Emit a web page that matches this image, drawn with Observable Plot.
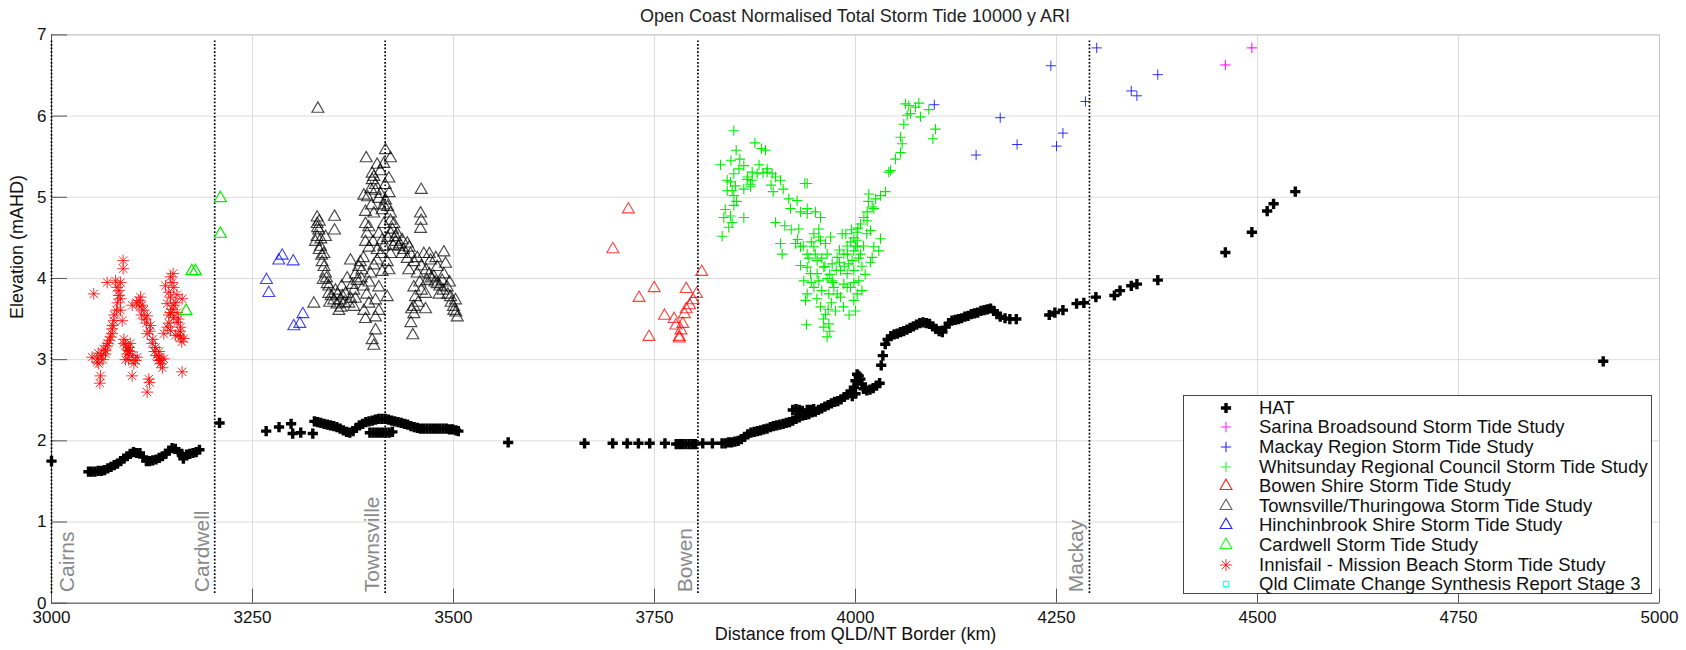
<!DOCTYPE html>
<html><head><meta charset="utf-8">
<script src="https://cdn.jsdelivr.net/npm/d3@7"></script>
<script src="https://cdn.jsdelivr.net/npm/@observablehq/plot@0.6"></script>
<style>
body{margin:0;background:#fff;font-family:"Liberation Sans",Arial,sans-serif;}
#wrap{position:relative;width:1686px;height:650px;overflow:hidden;background:#fff;}
#title{position:absolute;left:51px;width:1608px;top:5px;text-align:center;font-size:18px;color:#222;line-height:22px;z-index:2;}
#chart{position:absolute;left:0;top:0;z-index:1;}
#legend{position:absolute;left:1183px;top:395px;width:467px;height:197px;border:1px solid #444;background:#fff;z-index:3;}
.row{position:absolute;left:0;height:20px;width:460px;}
.row svg{position:absolute;left:32px;top:0;}
.row span{position:absolute;left:75px;top:0;line-height:20px;font-size:18.5px;color:#111;white-space:nowrap;}
</style></head>
<body>
<div id="wrap">
  <div id="title"></div>
  <div id="chart"></div>
  <div id="legend"></div>
</div>
<script>
const titleText = "Open Coast Normalised Total Storm Tide 10000 y ARI";
const xLabel = "Distance from QLD/NT Border (km)";
const yLabel = "Elevation (mAHD)";
const xTicks = [3000,3250,3500,3750,4000,4250,4500,4750,5000];
const yTicks = [0,1,2,3,4,5,6,7];
const cityNames = ["Cairns","Cardwell","Townsville","Bowen","Mackay"];
const cityKm = [3000,3203,3415,3804,4291];

const legendNames = ["HAT","Sarina Broadsound Storm Tide Study","Mackay Region Storm Tide Study","Whitsunday Regional Council Storm Tide Study","Bowen Shire Storm Tide Study","Townsville/Thuringowa Storm Tide Study","Hinchinbrook Shire Storm Tide Study","Cardwell Storm Tide Study","Innisfail - Mission Beach Storm Tide Study","Qld Climate Change Synthesis Report Stage 3"];
const legendColors = ["#000000","#ff00ff","#0000ff","#00ff00","#ff0000","#000000","#0000ff","#00ff00","#ff0000","#00ffff"];
const legendSymbols = ["cross","plus","plus","plus","triangle","triangle","triangle","triangle","asterisk","square"];

// [km, elevation]
const hat = [[3000,1.75],
[3046,1.62],[3050,1.62],[3054,1.62],[3058,1.63],[3062,1.63],[3066,1.64],[3070,1.66],[3074,1.68],[3078,1.70],[3082,1.72],[3086,1.75],[3090,1.78],[3094,1.81],[3098,1.84],[3102,1.86],[3106,1.85],[3110,1.85],[3114,1.80],[3118,1.75],[3122,1.75],[3126,1.76],[3130,1.77],[3134,1.79],[3138,1.81],[3142,1.84],[3146,1.88],[3150,1.91],[3154,1.90],[3158,1.86],[3162,1.84],[3164,1.78],[3168,1.83],[3172,1.84],[3176,1.85],[3180,1.86],[3184,1.89],
[3209,2.22],
[3267,2.12],[3283,2.17],[3298,2.21],[3300,2.09],[3310,2.10],[3325,2.09],
[3327,2.24],[3331,2.23],[3335,2.22],[3339,2.21],[3343,2.20],[3347,2.19],[3351,2.18],[3355,2.17],[3359,2.15],[3363,2.13],[3367,2.11],[3371,2.10],[3375,2.12],[3379,2.16],[3383,2.19],[3387,2.21],[3391,2.23],[3395,2.24],[3399,2.25],[3403,2.26],[3407,2.27],[3411,2.27],[3415,2.27],[3419,2.26],[3423,2.25],[3427,2.24],[3431,2.23],[3435,2.22],[3439,2.21],[3443,2.20],[3447,2.18],[3451,2.17],[3455,2.16],[3459,2.15],[3463,2.15],[3467,2.15],[3471,2.15],[3475,2.15],[3479,2.15],[3483,2.15],[3487,2.15],[3491,2.15],[3495,2.14],[3499,2.14],[3503,2.13],[3506,2.12],
[3396,2.10],[3400,2.10],[3404,2.10],[3408,2.10],[3412,2.10],[3416,2.10],[3420,2.10],[3424,2.11],
[3568,1.98],
[3663,1.97],[3698,1.97],[3716,1.97],[3730,1.97],[3744,1.97],[3763,1.97],[3777,1.96],[3781,1.96],[3785,1.96],[3789,1.96],[3793,1.96],[3797,1.96],[3801,1.96],[3810,1.97],[3822,1.97],[3834,1.97],
[3838,1.97],[3842,1.98],[3846,1.98],[3850,1.99],[3854,2.00],[3858,2.02],[3862,2.05],[3866,2.08],[3870,2.10],[3874,2.11],[3878,2.12],[3882,2.13],[3886,2.14],[3890,2.15],[3894,2.17],[3898,2.18],[3902,2.19],[3906,2.20],[3910,2.21],[3914,2.22],[3918,2.23],[3922,2.25],[3926,2.27],[3930,2.29],[3934,2.31],[3938,2.32],[3942,2.33],[3946,2.35],[3950,2.36],[3954,2.38],[3958,2.40],[3962,2.42],[3966,2.44],[3970,2.46],[3974,2.48],[3978,2.49],[3982,2.51],[3986,2.54],[3990,2.57],[3994,2.61],[3998,2.66],[4000,2.74],[4002,2.82],[4004,2.80],[4006,2.76],[4008,2.70],[4010,2.64],[4014,2.62],[4018,2.63],[4022,2.65],[4026,2.68],[4030,2.71],[4032,2.93],[4034,3.05],[4037,3.19],[4040,3.25],[4044,3.29],[4048,3.31],[4052,3.32],[4056,3.34],[4060,3.35],[4064,3.37],[4068,3.39],[4072,3.41],[4076,3.43],[4080,3.45],[4084,3.46],[4088,3.45],[4092,3.44],[4096,3.41],[4100,3.38],[4104,3.35],[4108,3.34],[4112,3.40],[4116,3.45],[4120,3.48],[4124,3.49],[4128,3.50],[4132,3.51],[4136,3.53],[4140,3.54],[4144,3.56],[4148,3.57],[4152,3.58],[4156,3.60],[4160,3.61],[4164,3.62],[4168,3.63],[4172,3.60],[4176,3.56],[4180,3.53],[4186,3.51],[4192,3.50],[4200,3.50],
[3922,2.38],[3926,2.39],[3930,2.38],[3934,2.37],[3940,2.38],[3944,2.38],[3948,2.39],[3996,2.55],[4000,2.58],
[4241,3.55],[4248,3.58],[4258,3.61],[4275,3.69],[4284,3.70],[4299,3.77],[4322,3.79],[4329,3.85],[4343,3.91],[4350,3.93],[4376,3.98],[4460,4.32],[4493,4.57],[4512,4.83],[4520,4.92],[4547,5.07],[4930,2.98]];

const sarina = [[4460,6.63],[4493,6.84]];

const mackay = [[4098,6.14],[4150,5.52],[4180,5.98],[4201,5.65],[4243,6.62],[4250,5.63],[4258,5.79],[4286,6.18],[4300,6.84],[4343,6.31],[4350,6.25],[4376,6.51]];

const whitsunday = [[3848.7,5.82],[3832.1,5.40],[3851.6,5.58],[3856.1,5.47],[3861.1,5.39],[3874.8,5.67],[3883.1,5.60],[3888.0,5.58],[3840.4,5.21],[3848.7,5.29],[3844.5,5.19],[3850.7,5.14],[3840.4,5.08],[3846.6,5.08],[3848.7,5.02],[3861.1,5.10],[3869.4,5.13],[3871.5,5.21],[3871.5,5.31],[3877.7,5.29],[3890.1,5.35],[3896.3,5.29],[3906.7,5.21],[3897.6,5.07],[3848.7,4.90],[3836.2,4.75],[3844.5,4.77],[3846.6,4.69],[3842.4,4.63],[3834.1,4.52],[3861.1,4.75],[3865.2,5.22],[3869.4,5.16],[3890.1,5.31],[3900.5,5.25],
[3937.0,5.17],[3939.9,5.17],[3917.1,4.98],[3927.4,4.96],[3919.1,4.86],[3931.6,4.82],[3939.9,4.80],[3939.9,4.86],[3950.2,4.82],[3956.5,4.75],[3900.5,4.69],[3929.5,4.61],[3954.4,4.61],[3948.2,4.55],[3954.4,4.51],[3906.7,4.43],[3908.8,4.30],[3925.4,4.43],[3931.6,4.39],[3939.9,4.30],[3948.2,4.39],[3956.5,4.47],[3962.7,4.43],[3968.9,4.51],[3964.7,4.30],[3952.3,4.22],[3939.9,4.14],[3931.6,4.16],[3944.0,4.06],[3935.7,3.97],[3939.9,3.81],[3937.8,3.73],[3954.4,3.97],[3960.6,4.14],[3971.0,4.18],[3977.2,4.26],[3981.3,4.10],[3989.6,4.06],[3985.5,3.93],[3993.8,3.89],[4002.1,3.81],[3997.9,3.73],[3981.3,3.77],[3973.0,3.89],[3964.7,4.00],[3956.5,3.65],[3962.7,3.56],[3966.8,3.44],[3960.6,3.40],[3964.7,3.28],[3939.0,3.43],[4000.0,3.60],[4004.1,3.97],[3991.7,4.18],[3983.4,4.55],[3989.6,4.40],[4002.1,4.47],[3997.9,4.34],[4006.2,4.30],[4002.1,4.57],[4006.2,4.67],[4010.4,4.75],[4014.5,4.71],[4018.6,4.59],[4031.1,4.49],[4022.8,4.39],[4020.7,4.26],[4018.6,4.20],[4029.0,4.34],
[3985.5,4.30],[3995.8,4.22],[4002.1,4.39],[3971.0,3.97],[3977.2,3.81],[3966.8,3.81],[3952.3,4.06],[3948.2,3.89],[3989.6,3.89],[3997.9,4.10],
[3945,4.45],[3950,4.30],[3958,4.25],[3962,4.15],[3968,4.05],[3972,3.95],[3976,4.10],[3980,4.20],[3986,4.15],[3990,4.30],[3994,4.45],[3998,4.50],[4000,4.40],[4004,4.25],[4008,4.15],[4012,4.05],[4010,4.40],[4014,4.55],[4003,4.62],[3995,4.60],[3958,3.85],[3952,3.75],[3945,3.95],[3942,4.25],[3935,4.40],[3928,4.48],[3920,4.60],[3912,4.65],[3970,3.70],[3975,3.60],[3968,3.35],[3985,3.65],[3992,3.55],[3998,3.95],[4008,3.85],[3960,3.50],[3966,3.62],[3980,4.35],[3988,4.55],[4016,4.95],[4025,4.98],[3855,5.35],[3845,5.45],[3838,4.85],[3852,4.95],[3866,5.25],[3880,5.40],[3885,5.30],[3910,5.10],[3895,5.15],
[4016.6,5.04],[4031.1,5.02],[4037.3,5.07],[4020.7,4.88],[4022.8,4.86],[4014.5,4.82],[4043.5,5.33],[4041.4,5.31],[4049.7,5.47],[4056.0,5.55],[4058.0,5.66],[4056.0,5.74],[4060.1,5.90],[4064.3,6.01],[4068.4,6.03],[4062.2,6.15],[4078.8,6.16],[4080.8,5.99],[4074.6,6.11],[4091.2,6.08],[4099.5,5.84],[4096.2,5.72],[4066.3,6.13]];

const bowen = [[3717.5,4.85],[3698.2,4.36],[3808.7,4.08],[3749.6,3.88],[3730.8,3.76],[3789.4,3.87],[3802.3,3.81],[3798.0,3.73],[3793.7,3.67],[3789.4,3.62],[3787.3,3.56],[3762.4,3.54],[3774.4,3.50],[3785.2,3.44],[3776.6,3.42],[3783.0,3.36],[3780.9,3.28],[3743.2,3.28],[3780.9,3.26]];

const townsville = [[3331.3,6.09],[3391.4,5.48],[3415.4,5.58],[3421.6,5.48],[3398.8,5.29],[3400.9,5.25],[3419.6,5.23],[3403.0,5.08],[3388.5,5.02],[3409.2,5.04],[3415.4,4.96],[3390.5,4.82],[3400.9,4.80],[3411.3,4.84],[3421.6,4.80],[3421.6,4.71],[3390.5,4.67],[3394.7,4.63],[3392.6,4.55],[3390.5,4.45],[3407.1,4.55],[3411.3,4.47],[3413.3,4.39],[3425.8,4.67],[3429.9,4.55],[3436.1,4.47],[3442.4,4.43],[3432.0,4.39],[3421.6,4.30],[3417.5,4.20],[3405.0,4.22],[3400.9,4.16],[3396.8,4.06],[3411.3,4.08],[3419.6,4.10],[3407.1,3.89],[3417.5,3.77],[3403.0,3.73],[3394.7,3.69],[3388.5,3.60],[3390.5,3.50],[3407.1,3.60],[3403.0,3.52],[3403.0,3.36],[3398.8,3.24],[3400.9,3.17],
[3330.4,4.75],[3330.4,4.67],[3332.5,4.59],[3330.4,4.51],[3328.3,4.45],[3334.6,4.39],[3338.7,4.30],[3336.6,4.20],[3340.8,4.06],[3342.9,3.93],[3344.9,3.81],[3351.2,3.73],[3357.4,3.60],[3353.2,3.85],[3359.4,3.73],[3365.7,3.81],[3369.8,3.69],[3367.7,4.00],[3376.0,3.85],[3380.2,3.97],[3382.2,4.14],[3371.9,4.22],[3326.3,3.69],[3352.0,4.76],[3352.0,4.59],
[3459.8,5.09],[3459.0,4.80],[3459.8,4.71],[3459.0,4.61],[3446.5,4.30],[3450.7,4.20],[3444.4,4.10],[3454.8,4.06],[3463.1,4.30],[3471.4,4.22],[3479.7,4.14],[3488.0,4.32],[3490.1,4.18],[3485.9,3.97],[3479.7,3.93],[3492.1,3.89],[3496.3,3.77],[3502.5,3.73],[3500.4,3.60],[3504.6,3.52],[3450.7,3.89],[3452.7,3.77],[3450.7,3.65],[3450.7,3.56],[3465.2,3.81],[3465.2,3.62],[3449.4,3.30],[3467.2,3.97],[3475.5,4.02],[3436.1,4.30],[3442.4,4.24],[3427.9,4.51],[3340.8,4.51],
[3413.3,5.41],[3398.8,5.21],[3413.3,4.67],[3386.0,4.10],[3378.0,3.75],[3362.0,3.78],[3425.0,4.40],[3470.0,4.05],[3482.0,3.80],
[3405,5.40],[3409,5.32],[3403,5.15],[3397,5.10],[3407,4.98],[3413,4.90],[3418,4.88],[3424,4.60],[3428,4.45],[3433,4.42],[3438,4.35],[3445,4.38],[3410,4.30],[3405,4.35],[3400,4.45],[3395,4.38],[3418,4.50],[3422,4.55],[3398,4.90],[3393,5.00],[3415,5.15],[3420,5.05],
[3333,4.70],[3331,4.62],[3335,4.48],[3333,4.35],[3336,4.28],[3339,4.14],[3342,4.00],[3338,3.98],[3345,3.90],[3348,3.78],[3346,3.70],
[3355,3.68],[3360,3.64],[3364,3.70],[3372,3.75],[3376,3.65],[3374,3.92],[3378,4.05],[3385,4.00],[3388,3.90],[3392,3.80],[3395,3.95],[3384,4.20],[3388,4.25],[3361,3.90],[3356,3.80],
[3455,4.25],[3460,4.15],[3466,4.10],[3472,4.00],[3477,3.95],[3483,3.90],[3487,3.85],[3493,3.80],[3497,3.70],[3500,3.65],[3503,3.58],[3495,3.95],[3488,4.05],[3478,4.25],[3470,4.30],[3458,3.95],[3456,3.70],[3448,3.62],[3447,3.45],[3460,3.85]];

const hinchinbrook = [[3286.9,4.28],[3282.7,4.22],[3300.6,4.21],[3267.4,3.98],[3270.3,3.82],[3312.6,3.56],[3308.9,3.44],[3301.4,3.41]];

const cardwell = [[3210,4.99],[3210,4.55],[3174.6,4.09],[3179,4.09],[3167.4,3.60]];

const innisfail = [[3089.1,4.22],[3089.1,4.12],[3069.2,3.95],[3079.6,3.97],[3081.6,3.89],[3083.7,3.79],[3085.8,3.75],[3052.6,3.81],[3080.8,3.61],[3085.8,3.61],[3077.5,3.48],[3087.9,3.48],[3075.4,3.38],[3073.4,3.28],[3069.2,3.17],[3065.1,3.13],[3067.1,3.07],[3050.5,3.03],[3058.8,2.95],[3056.8,2.97],[3060.9,2.80],[3060.1,2.71],[3089.9,3.20],[3096.2,3.15],[3094.1,3.07],[3100.3,3.05],[3102.4,2.95],[3106.5,3.03],[3100.3,2.80],[3110.7,3.77],[3108.6,3.73],[3112.7,3.67],[3114.8,3.61],[3119.0,3.54],[3100.3,3.67],[3123.1,3.42],[3119.0,3.32],[3125.2,3.20],[3129.3,3.15],[3133.5,3.03],[3135.5,2.95],[3139.7,3.01],[3121.0,2.76],[3119.0,2.60],[3162.5,2.85],[3151.3,4.06],[3141.8,3.91],[3145.9,3.83],[3148.0,3.77],[3152.1,3.89],[3143.8,3.69],[3152.1,3.67],[3148.0,3.58],[3156.3,3.58],[3152.1,3.52],[3162.5,3.75],[3160.4,3.40],[3156.3,3.46],[3148.0,3.36],[3139.7,3.32],[3158.4,3.30],[3164.6,3.26],[3160.4,3.28],
[3096.2,3.11],[3104.5,2.99],[3067.1,3.11],[3056.8,3.01],[3075.4,3.32],[3133.5,2.99],
[3062,3.05],[3064,3.00],[3058,3.08],[3070,3.20],[3072,3.24],[3076,3.42],[3078,3.55],[3082,3.70],[3084,3.85],[3086,3.95],[3090,3.25],[3092,3.18],[3094,3.12],[3097,3.10],[3098,3.20],[3092,3.00],[3096,3.00],[3106,3.70],[3110,3.65],[3112,3.55],[3116,3.50],[3118,3.45],[3122,3.35],[3126,3.25],[3128,3.10],[3131,3.05],[3134,3.10],[3136,3.00],[3138,2.90],[3122,2.72],[3144,3.40],[3146,3.55],[3150,3.62],[3154,3.70],[3156,3.80],[3150,3.95],[3148,4.02],[3158,3.50],[3160,3.35],[3162,3.22],[3154,3.30],[3146,3.45]];

const synthesis = [];

// ---------- rendering ----------
document.getElementById("title").textContent = titleText;
const W = 1686, H = 650, mL = 51, mR = 27, mT = 34.4, mB = 47.3;
const frameW = W - mL - mR, frameH = H - mT - mB;
const cities = cityNames.map((n,i)=>({name:n, km:cityKm[i]}));
const P = s => s.map(([x,y])=>({x,y}));

const chart = Plot.plot({
  width: W, height: H, marginLeft: mL, marginRight: mR, marginTop: mT, marginBottom: mB,
  style: {fontFamily: "'Liberation Sans', Arial, sans-serif", fontSize: "17px", color: "#111", background: "transparent"},
  x: {domain: [3000,5000], ticks: xTicks, tickSize: 0, tickPadding: 8, tickFormat: d => String(d), label: null},
  y: {domain: [0,7], ticks: yTicks, tickSize: 0, tickPadding: 5, tickFormat: d => String(d), label: null},
  marks: [
    Plot.ruleX(xTicks, {stroke: "#dcdcdc", strokeWidth: 1}),
    Plot.ruleY(yTicks, {stroke: "#dcdcdc", strokeWidth: 1}),
    Plot.frame({stroke: "#c4c4c4"}),
    Plot.ruleX(xTicks, {stroke: "#555", insetTop: frameH - 14}),
    Plot.ruleY(yTicks, {stroke: "#555", insetRight: frameW - 16}),
    Plot.ruleX(xTicks.slice(0,1), {stroke: "#555"}),
    Plot.ruleY(yTicks.slice(0,1), {stroke: "#555"}),
    Plot.ruleX(cities, {x: "km", stroke: "#000", strokeWidth: 1.7, strokeDasharray: "1.7,1.9", insetTop: 6, insetBottom: 8}),
    Plot.text(cities.slice(0,1), {x: "km", text: "name", frameAnchor: "bottom", rotate: -90, textAnchor: "start", dx: 22, dy: -11, fill: "#8a8a8a", fontSize: 21}),
    Plot.text(cities.slice(1), {x: "km", text: "name", frameAnchor: "bottom", rotate: -90, textAnchor: "start", dx: -6, dy: -11, fill: "#8a8a8a", fontSize: 21}),
    Plot.text([xLabel], {frameAnchor: "bottom", dy: 37, fontSize: 18, fill: "#111"}),
    Plot.text([yLabel], {frameAnchor: "left", rotate: -90, dx: -34, fontSize: 18, fill: "#111"}),
    Plot.dot(P(innisfail), {x: "x", y: "y", symbol: "plus", r: 3.9, stroke: "#ff0000", fill: "none", strokeWidth: 1, strokeOpacity: 0.8}),
    Plot.dot(P(innisfail), {x: "x", y: "y", symbol: "times", r: 3.9, stroke: "#ff0000", fill: "none", strokeWidth: 1, strokeOpacity: 0.8}),
    Plot.dot(P(cardwell), {x: "x", y: "y", symbol: "triangle2", r: 5.7, stroke: "#00ee00", fill: "none", strokeWidth: 1.2}),
    Plot.dot(P(hinchinbrook), {x: "x", y: "y", symbol: "triangle2", r: 5.7, stroke: "#0000ff", fill: "none", strokeWidth: 1.1, strokeOpacity: 0.75}),
    Plot.dot(P(townsville), {x: "x", y: "y", symbol: "triangle2", r: 5.7, stroke: "#000", fill: "none", strokeWidth: 1.15, strokeOpacity: 0.72}),
    Plot.dot(P(bowen), {x: "x", y: "y", symbol: "triangle2", r: 5.7, stroke: "#ff0000", fill: "none", strokeWidth: 1.1, strokeOpacity: 0.75}),
    Plot.dot(P(whitsunday), {x: "x", y: "y", symbol: "plus", r: 3.4, stroke: "#00ee00", fill: "none", strokeWidth: 1.1}),
    Plot.dot(P(mackay), {x: "x", y: "y", symbol: "plus", r: 3.4, stroke: "#0000ff", fill: "none", strokeWidth: 1, strokeOpacity: 0.8}),
    Plot.dot(P(sarina), {x: "x", y: "y", symbol: "plus", r: 3.4, stroke: "#ff00ff", fill: "none", strokeWidth: 1}),
    Plot.dot(P(synthesis), {x: "x", y: "y", symbol: "square2", r: 3.4, stroke: "#00ffff", fill: "none"}),
    Plot.dot(P(hat), {x: "x", y: "y", symbol: "cross", r: 4.3, fill: "#000", stroke: "none"})
  ]
});
document.getElementById("chart").appendChild(chart);

// legend
const legend = d3.select("#legend");
const symMap = {cross: d3.symbolCross, plus: d3.symbolPlus, triangle: d3.symbolTriangle2, asterisk: d3.symbolAsterisk, square: d3.symbolSquare2};
legendNames.forEach((name, i) => {
  const row = legend.append("div").attr("class", "row").style("top", (1.7 + i * 19.6) + "px");
  const svg = row.append("svg").attr("width", 20).attr("height", 20);
  const g = svg.append("g").attr("transform", "translate(10,10)");
  const s = legendSymbols[i], c = legendColors[i];
  if (s === "cross") {
    g.append("path").attr("d", d3.symbol(d3.symbolCross, Math.PI * 4.3 * 4.3)()).attr("fill", c);
  } else if (s === "asterisk") {
    g.append("path").attr("d", d3.symbol(d3.symbolPlus, Math.PI * 3.9 * 3.9)()).attr("fill", "none").attr("stroke", c).attr("stroke-opacity", 0.8);
    g.append("path").attr("d", d3.symbol(d3.symbolTimes, Math.PI * 3.9 * 3.9)()).attr("fill", "none").attr("stroke", c).attr("stroke-opacity", 0.8);
  } else {
    const size = s === "triangle" ? Math.PI * 5.7 * 5.7 : Math.PI * 3.4 * 3.4;
    g.append("path").attr("d", d3.symbol(symMap[s], size)()).attr("fill", "none").attr("stroke", c)
      .attr("stroke-width", 1.1).attr("stroke-opacity", (s === "triangle" && c === "#000000") ? 0.6 : 0.85);
  }
  row.append("span").text(name);
});
</script>
</body></html>
